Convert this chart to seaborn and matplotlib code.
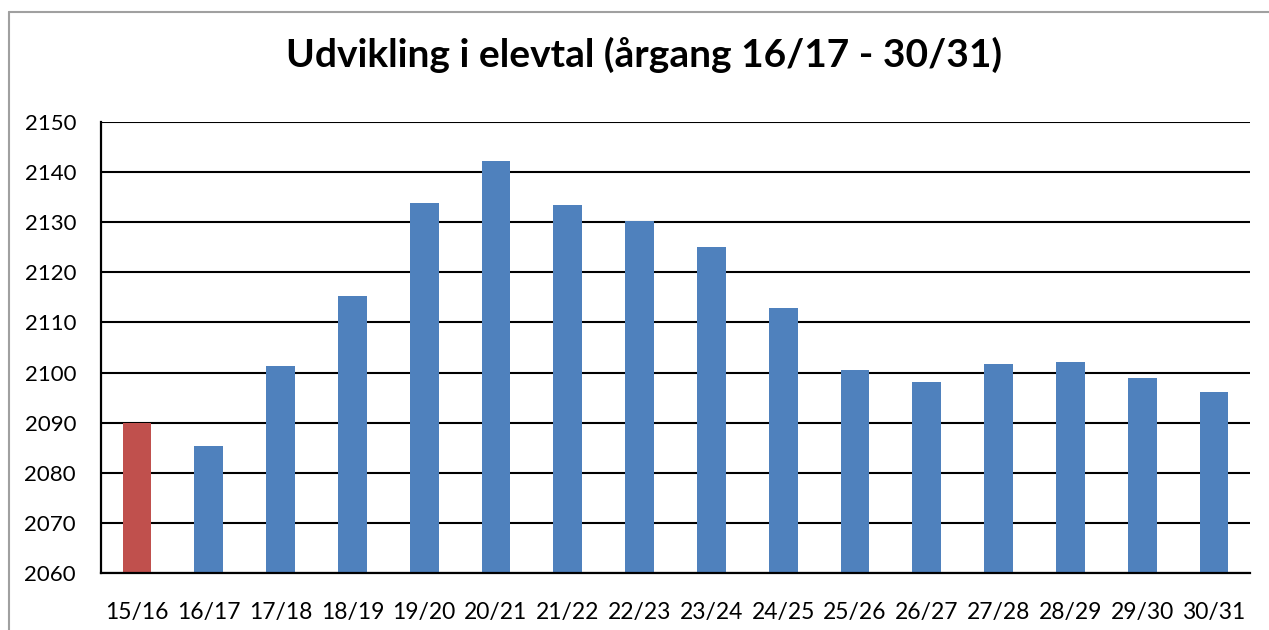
import matplotlib
matplotlib.use("Agg")
import matplotlib.pyplot as plt
import seaborn as sns
from matplotlib.lines import Line2D

# elevtal pr. skoleaar (15/16 = faktisk, resten prognose)
years = ["15/16", "16/17", "17/18", "18/19", "19/20", "20/21", "21/22", "22/23",
         "23/24", "24/25", "25/26", "26/27", "27/28", "28/29", "29/30", "30/31"]
students = [2090.0, 2085.4, 2101.4, 2115.3, 2133.9, 2142.3, 2133.5, 2130.3,
            2125.1, 2112.9, 2100.6, 2098.2, 2101.8, 2102.2, 2099.0, 2096.2]
bar_colors = ["#C0504D"] + ["#4F81BD"] * 15

sns.set_theme(style="white")
plt.rcParams["font.family"] = ["Lato", "DejaVu Sans"]

fig = plt.figure(figsize=(12.69, 6.30), dpi=100)
ax = fig.add_axes([101 / 1269, 1 - 573 / 630, (1250 - 101) / 1269, (573 - 122) / 630])

sns.barplot(x=years, y=students, hue=years, palette=bar_colors, legend=False,
            width=0.4, saturation=1, linewidth=0, ax=ax)

ax.set_ylim(2060, 2150)
ax.set_yticks(range(2060, 2151, 10))
ax.set_xlim(-0.5, 15.5)
ax.grid(axis="y", color="black", linewidth=1.5)
ax.set_axisbelow(True)
for s in ["top", "right"]:
    ax.spines[s].set_visible(False)
for s in ["left", "bottom"]:
    ax.spines[s].set_color("black")
    ax.spines[s].set_linewidth(1.6)
ax.tick_params(axis="y", length=0, pad=18, labelsize=16, labelcolor="black")
ax.tick_params(axis="x", length=0, pad=21, labelsize=16.5, labelcolor="black")
ax.set_xlabel("")
ax.set_ylabel("")

fig.text(644 / 1269, 1 - 55 / 630, "Udvikling i elevtal (årgang 16/17 - 30/31)",
         ha="center", va="center", fontsize=28, fontweight="bold", color="black")

# ramme om diagrammet
fig.add_artist(Line2D([9 / 1269, 1], [1 - 12 / 630, 1 - 12 / 630], color="#A0A0A0", lw=1.5))
fig.add_artist(Line2D([9 / 1269, 9 / 1269], [0, 1 - 12 / 630], color="#A0A0A0", lw=1.5))

fig.savefig("out.png", dpi=100)
